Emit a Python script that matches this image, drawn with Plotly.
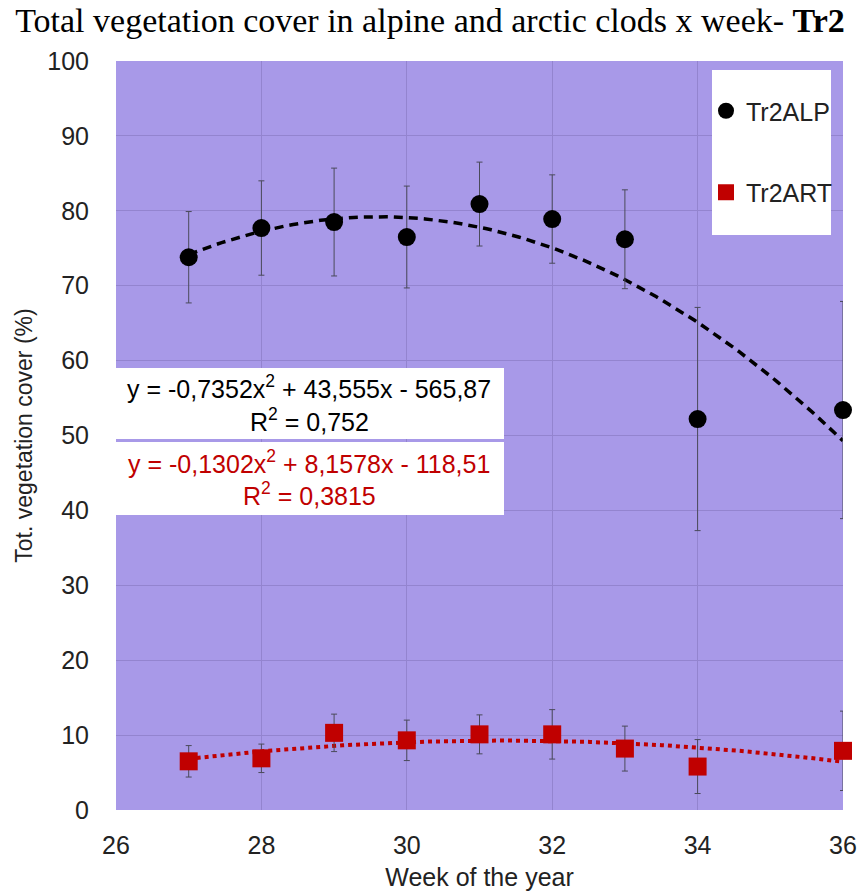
import numpy as np
import plotly.graph_objects as go

weeks = [27, 28, 29, 30, 31, 32, 33, 34, 36]
alp_mean = [73.8, 77.7, 78.5, 76.5, 80.9, 78.9, 76.2, 52.2, 53.4]
alp_err = [6.1, 6.3, 7.2, 6.8, 5.6, 5.9, 6.6, 14.9, 14.5]
art_mean = [6.5, 6.9, 10.3, 9.3, 10.1, 10.1, 8.2, 5.8, 7.9]
art_err = [2.1, 1.9, 2.5, 2.7, 2.6, 3.3, 3.0, 3.6, 5.3]

# trendline coefficients as printed on the chart (a, b, c) for y = a x^2 + b x + c
alp_coef = [-0.7352, 43.555, -565.87]
art_coef = [-0.1302, 8.1578, -118.51]

alp_eq = ["y = -0,7352x<sup>2</sup> + 43,555x - 565,87", "R<sup>2</sup> = 0,752"]
art_eq = ["y = -0,1302x<sup>2</sup> + 8,1578x - 118,51", "R<sup>2</sup> = 0,3815"]

xs = np.linspace(weeks[0], weeks[-1], 120)
alp_fit = np.polyval(alp_coef, xs)
art_fit = np.polyval(art_coef, xs)

BG = "#A899E8"
GRID = "#9384CF"
RED = "#C00000"
FONT = "Liberation Sans, Arial, sans-serif"
TXT = "#222"

fig = go.Figure()

fig.add_trace(go.Scatter(x=xs, y=alp_fit, mode="lines", showlegend=False,
                         line=dict(color="black", width=3.5, dash="9px,6px"), hoverinfo="skip"))
fig.add_trace(go.Scatter(x=xs, y=art_fit, mode="lines", showlegend=False,
                         line=dict(color=RED, width=4, dash="dot"), hoverinfo="skip"))

fig.add_trace(go.Scatter(x=weeks, y=alp_mean, mode="markers", name="Tr2ALP", legendgroup="a",
                         marker=dict(symbol="circle", size=18, color="black"),
                         error_y=dict(type="data", array=alp_err, visible=True,
                                      color="#4a4a5a", thickness=1, width=3)))
fig.add_trace(go.Scatter(x=weeks, y=art_mean, mode="markers", name="Tr2ART", legendgroup="b",
                         marker=dict(symbol="square", size=18, color=RED),
                         error_y=dict(type="data", array=art_err, visible=True,
                                      color="#4a4a5a", thickness=1, width=3)))

W, H = 860, 892
L, R, T, B = 116, 17, 61, 82


def xfrac(xp):
    return (xp - L) / (W - L - R)


def yfrac(yp):
    return (H - B - yp) / (H - T - B)


shapes = [
    # legend box
    dict(type="rect", xref="paper", yref="paper", x0=xfrac(712), x1=xfrac(831),
         y0=yfrac(235), y1=yfrac(70),
         fillcolor="white", line=dict(width=0), layer="above"),
    # equation boxes
    dict(type="rect", xref="paper", yref="paper", x0=0, x1=xfrac(504),
         y0=yfrac(439), y1=yfrac(368),
         fillcolor="white", line=dict(width=0), layer="above"),
    dict(type="rect", xref="paper", yref="paper", x0=0, x1=xfrac(504),
         y0=yfrac(515), y1=yfrac(442),
         fillcolor="white", line=dict(width=0), layer="above"),
]

xc = xfrac(309)
annotations = []
for txt, yp, col in [(alp_eq[0], 387, "black"), (alp_eq[1], 420, "black"),
                     (art_eq[0], 462, RED), (art_eq[1], 494, RED)]:
    annotations.append(dict(xref="paper", yref="paper", x=xc, y=yfrac(yp), text=txt, showarrow=False,
                            font=dict(family=FONT, size=25, color=col),
                            xanchor="center", yanchor="middle"))

fig.update_layout(
    width=W, height=H,
    margin=dict(l=L, r=R, t=T, b=B, autoexpand=False),
    paper_bgcolor="white", plot_bgcolor=BG,
    title=dict(text="Total vegetation cover in alpine and arctic clods x week- <b>Tr2</b>",
               x=0.5, xanchor="center", y=1 - 20 / H, yanchor="middle",
               font=dict(family="Liberation Serif, Times New Roman, serif", size=34, color="black")),
    font=dict(family=FONT, size=25, color=TXT),
    xaxis=dict(range=[26, 36], tickvals=[26, 28, 30, 32, 34, 36], showgrid=True, gridcolor=GRID,
               gridwidth=1, zeroline=False, showline=False, ticks="", ticklabelstandoff=18,
               automargin=False,
               tickfont=dict(size=25, family=FONT, color=TXT),
               title=dict(text="Week of the year", standoff=10,
                          font=dict(size=25, family=FONT, color=TXT))),
    yaxis=dict(range=[0, 100], tickvals=list(range(0, 101, 10)), showgrid=True, gridcolor=GRID,
               gridwidth=1, zeroline=False, showline=False, ticks="", ticklabelstandoff=26,
               automargin=False,
               tickfont=dict(size=25, family=FONT, color=TXT),
               title=dict(text="Tot. vegetation cover (%)", standoff=8,
                          font=dict(size=23, family=FONT, color=TXT))),
    legend=dict(x=xfrac(706), y=yfrac(88), xanchor="left", yanchor="top",
                bgcolor="rgba(0,0,0,0)", borderwidth=0, tracegroupgap=46,
                font=dict(size=25, family=FONT, color=TXT), itemwidth=30),
    shapes=shapes, annotations=annotations,
)
fig.update_traces(cliponaxis=False, selector=dict(mode="markers"))

fig.write_html("out.html")
